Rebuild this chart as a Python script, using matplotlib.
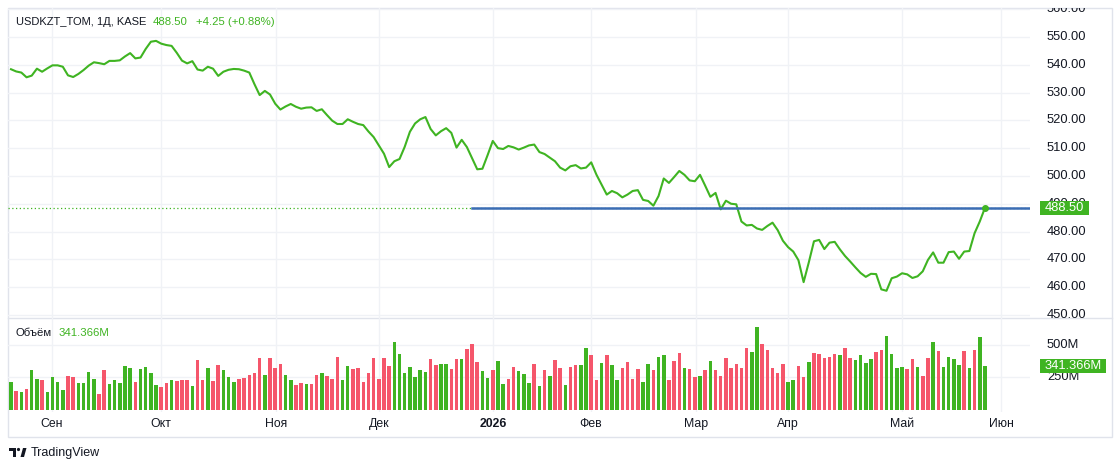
import matplotlib
matplotlib.use("Agg")
import matplotlib.pyplot as plt
from matplotlib.patches import Rectangle, Circle, Polygon
from matplotlib.transforms import Bbox, TransformedBbox, blended_transform_factory

plt.rcParams['font.family'] = ['Liberation Sans', 'DejaVu Sans']

# daily close, USDKZT_TOM
price = [
    538.4, 537.6, 537.2, 535.5, 536.1, 538.6, 537.5, 538.7, 539.8, 539.8,
    539.3, 536.2, 535.6, 536.7, 538.1, 539.7, 540.9, 540.6, 540.2, 541.4,
    541.4, 541.6, 543.0, 544.2, 542.3, 542.6, 545.7, 548.3, 548.6, 547.6,
    547.1, 546.8, 544.3, 541.5, 540.5, 541.3, 538.3, 537.9, 539.3, 538.6,
    536.0, 537.5, 538.2, 538.5, 538.4, 537.9, 537.2, 533.0, 529.1, 530.6,
    529.3, 526.0, 523.9, 525.0, 525.9, 524.9, 524.2, 524.6, 524.7, 523.4,
    524.0, 521.9, 519.9, 518.7, 518.7, 520.4, 519.5, 518.7, 518.3, 516.0,
    514.0, 511.0, 508.0, 503.2, 505.3, 506.1, 510.5, 515.9, 518.9, 520.4,
    521.2, 516.9, 514.6, 516.1, 517.2, 515.5, 510.2, 513.0, 510.4, 506.4,
    502.4, 502.6, 507.5, 512.6, 510.0, 509.7, 510.8, 510.3, 509.5, 510.2,
    511.0, 511.3, 508.6, 507.9, 506.6, 505.3, 503.0, 502.0, 503.5, 503.9,
    502.7, 503.0, 504.9, 500.5, 496.9, 493.3, 494.6, 493.8, 492.3, 493.3,
    494.6, 494.9, 491.4, 491.0, 489.3, 492.8, 499.1, 497.5, 499.6, 501.8,
    500.4, 498.4, 498.1, 500.4, 496.5, 492.5, 493.9, 488.0, 491.1, 490.0,
    489.8, 483.6, 482.2, 482.4, 481.1, 480.6, 482.0, 483.2, 480.5, 476.7,
    474.4, 472.8, 469.7, 461.8, 468.9, 476.5, 477.0, 473.7, 476.0, 476.3,
    473.6, 471.2, 469.2, 467.1, 465.1, 463.7, 464.8, 464.7, 459.2, 458.7,
    463.2, 463.8, 465.0, 464.6, 463.3, 463.9, 465.7, 469.8, 472.5, 468.8,
    468.8, 472.6, 472.8, 470.2, 472.8, 473.0, 479.4, 483.6, 488.5,
]

# volume, millions
volume = [
    212, 142, 134, 160, 304, 240, 227, 137, 253, 212,
    155, 261, 253, 206, 206, 292, 240, 121, 304, 199,
    227, 206, 338, 325, 214, 312, 330, 284, 191, 175,
    206, 227, 222, 232, 232, 183, 387, 232, 325, 219,
    346, 304, 253, 212, 237, 245, 268, 284, 402, 268,
    402, 325, 353, 268, 232, 191, 206, 199, 199, 268,
    284, 261, 240, 410, 227, 338, 312, 325, 214, 284,
    402, 240, 402, 338, 524, 433, 284, 333, 253, 304,
    292, 390, 346, 353, 353, 312, 390, 390, 467, 508,
    369, 297, 248, 304, 377, 199, 240, 333, 297, 276,
    206, 353, 183, 304, 261, 382, 325, 191, 333, 346,
    346, 475, 426, 227, 361, 426, 346, 227, 320, 369,
    240, 312, 212, 353, 304, 410, 426, 232, 377, 439,
    320, 312, 255, 261, 304, 377, 304, 261, 397, 325,
    353, 325, 475, 446, 637, 508, 459, 325, 284, 353,
    212, 232, 338, 253, 369, 439, 433, 402, 410, 433,
    426, 475, 397, 382, 426, 361, 390, 446, 459, 568,
    433, 325, 333, 312, 390, 333, 261, 397, 524, 454,
    333, 410, 390, 346, 454, 325, 459, 560, 341.366,
]

# bar direction: G = up day, R = down day
direction = (
    "GRGRGGRGGGGRRGGGGRRGGGGGRGGGGRRGRRRGRRGRRGGGRRRR"
    "RGRRRGGRRGRRGRRRGGRRRRRRRRGGGGGGGRRGGRRGRRRGGRGG"
    "RRGGGRGRGRRGRRGGRRGRGGRRRRGGRGGRRRGRRGRGRRRRRRRG"
    "GRRRRRGGRRGRRRRRGRRGGGGRRGGGGRRGRRGRGGG"
)

month_pos = [7.9, 29.0, 51.2, 71.0, 93.1, 111.9, 132.2, 150.0, 172.0, 191.1]
month_lbl = ["Сен", "Окт", "Ноя", "Дек", "2026", "Фев", "Мар", "Апр", "Май", "Июн"]

price_ticks = [450, 460, 470, 480, 490, 500, 510, 520, 530, 540, 550, 560]
vol_ticks = [250, 500]
level = 488.5        # horizontal ray
level_start = 89     # bar where the ray begins

W, H = 1120, 469
GREEN = '#3fb422'
RED = '#f5566b'
TXT = '#131722'
GRID = '#f0f2f6'
BORDER = '#e0e3eb'


def fx(px):
    return px / W


def fy(py):
    return 1 - py / H


fig = plt.figure(figsize=(W / 100, H / 100), dpi=100)
fig.patch.set_facecolor('white')

xl = (-0.58, 196.7)
ax = fig.add_axes([fx(8), fy(318), fx(1030) - fx(8), fy(8) - fy(318)])
axv = fig.add_axes([fx(8), fy(412), fx(1030) - fx(8), fy(318) - fy(412)])
axw = 1022.0  # axes width in px
lab_x = (1047 - 8) / axw

n = len(price)
xs = list(range(n))

# price pane
ax.plot(xs, price, color=GREEN, lw=1.5, zorder=3, solid_joinstyle='round')
ax.plot([xs[-1]], [price[-1]], 'o', color=GREEN, ms=4, zorder=4)
ax.axhline(price[-1], color=GREEN, lw=0.9, ls=(0, (1, 2)), zorder=2)
ax.plot([level_start, xl[1]], [level, level], color='#3a6cb4', lw=1.8, zorder=3)
ax.set_xlim(*xl)
ax.set_ylim(448.9, 560.43)
for v in price_ticks:
    ax.axhline(v, color=GRID, lw=1, zorder=0)

# volume pane
cols = [GREEN if d == 'G' else RED for d in direction]
axv.bar(xs, volume, width=0.68, color=cols, zorder=3)
axv.set_xlim(*xl)
axv.set_ylim(-17.8, 710)
for v in vol_ticks:
    axv.axhline(v, color=GRID, lw=1, zorder=0)

for a in (ax, axv):
    for p in month_pos:
        a.axvline(p, color=GRID, lw=1, zorder=0)
    a.set_xticks([])
    a.set_yticks([])
    for s in a.spines.values():
        s.set_visible(False)
    a.patch.set_alpha(0)

# right-hand scales, clipped to the pane like in the app
clip_p = TransformedBbox(Bbox([[fx(1030), fy(318)], [fx(1112), fy(8)]]), fig.transFigure)
for v in price_ticks:
    t = ax.text(lab_x, v, f"{v:.2f}", transform=ax.get_yaxis_transform(),
                ha='left', va='center', fontsize=9.3, color=TXT, clip_on=True)
    t.set_clip_box(clip_p)

# last price tag
bt = blended_transform_factory(ax.transAxes, ax.transData)
hp = 14 / 2.78
ax.add_patch(Rectangle((1032 / axw, price[-1] - hp / 2), 49 / axw, hp, transform=bt,
                       fc=GREEN, ec='none', zorder=6, clip_on=False))
ax.text((1032 + 24.5) / axw, price[-1], f"{price[-1]:.2f}", transform=bt,
        ha='center', va='center', fontsize=9.3, color='white', zorder=7)

for v in vol_ticks:
    axv.text(lab_x, v, f"{v}M", transform=axv.get_yaxis_transform(),
             ha='left', va='center', fontsize=9.3, color=TXT)

btv = blended_transform_factory(axv.transAxes, axv.transData)
hv = 14 / 32.3 * 250
axv.add_patch(Rectangle((1032 / axw, volume[-1] - hv / 2), 66 / axw, hv, transform=btv,
                        fc=GREEN, ec='none', zorder=6, clip_on=False))
axv.text((1032 + 33) / axw, volume[-1], f"{volume[-1]:.3f}M", transform=btv,
         ha='center', va='center', fontsize=9.3, color='white', zorder=7)

# time axis labels
for p, lab in zip(month_pos, month_lbl):
    axv.text(p, -0.13, lab, transform=axv.get_xaxis_transform(), ha='center', va='center',
             fontsize=8.8, color=TXT, fontweight='bold' if lab == '2026' else 'normal')

# overlay for frame, legends and logo (pixel coords)
ov = fig.add_axes([0, 0, 1, 1], zorder=-1)
ov.set_xlim(0, W)
ov.set_ylim(H, 0)
ov.axis('off')
ov.add_patch(Rectangle((8, 8), 1104, 429, fill=False, ec=BORDER, lw=1))
ov.plot([8, 1112], [318, 318], color=BORDER, lw=1)

top = fig.add_axes([0, 0, 1, 1], zorder=5)
top.set_xlim(0, W)
top.set_ylim(H, 0)
top.axis('off')
top.text(16, 22, "USDKZT_TOM, 1Д, KASE", fontsize=8, color=TXT, va='center')
top.text(153, 22, "488.50", fontsize=8.2, color=GREEN, va='center')
top.text(196, 22, "+4.25 (+0.88%)", fontsize=8.2, color=GREEN, va='center')
top.text(16, 333, "Объём", fontsize=8.2, color=TXT, va='center')
top.text(59, 333, "341.366M", fontsize=8.2, color=GREEN, va='center')

# TradingView logo
top.add_patch(Rectangle((9, 448), 7, 3, color=TXT, lw=0))
top.add_patch(Rectangle((12.5, 448), 3.5, 9, color=TXT, lw=0))
top.add_patch(Circle((18.5, 449.5), 1.6, color=TXT, lw=0))
top.add_patch(Polygon([[20.5, 457], [23, 448], [26.5, 448], [24, 457]], closed=True, color=TXT, lw=0))
top.text(31, 453, "TradingView", fontsize=9, color=TXT, va='center')

fig.savefig("out.png", dpi=100, facecolor='white')
